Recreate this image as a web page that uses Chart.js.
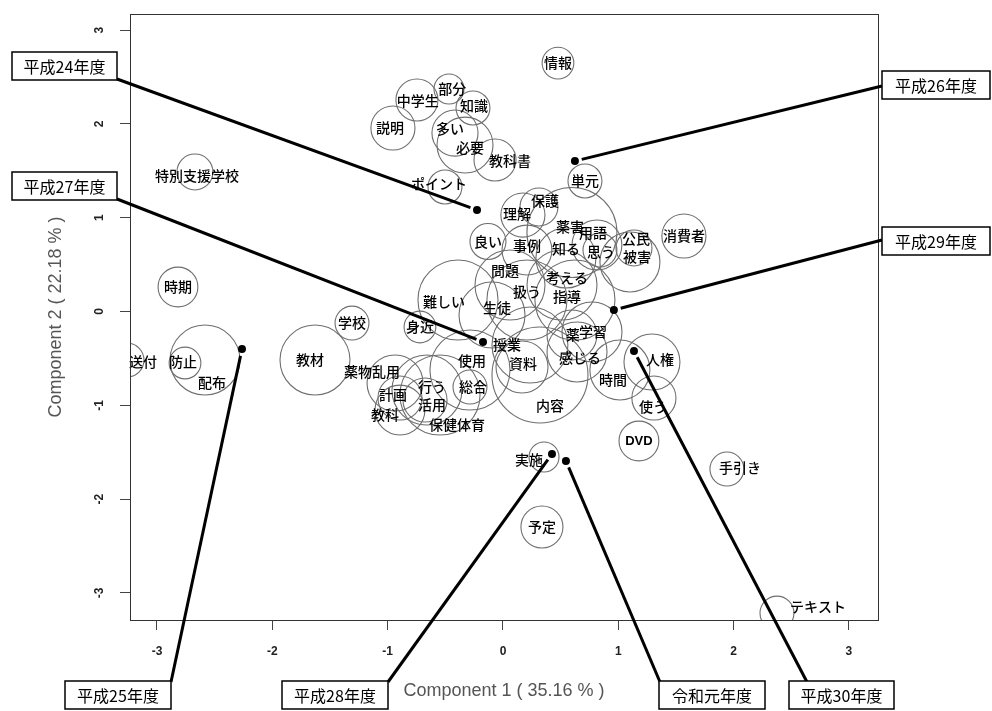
<!DOCTYPE html>
<html>
<head>
<meta charset="utf-8">
<script src="https://cdn.jsdelivr.net/npm/chart.js@4/dist/chart.umd.min.js"></script>
<style>
  html, body { margin: 0; padding: 0; background: #ffffff; }
  canvas { display: block; }
</style>
</head>
<body>
<canvas id="ca" width="992" height="711"></canvas>
<script>
// Correspondence analysis: extracted words (bubbles) and fiscal years (points)
const words = [
  '情報','部分','中学生','知識','説明','多い','必要','教科書','ポイント','単元',
  '保護','理解','薬害','良い','事例','知る','用語','思う','公民','被害',
  '消費者','問題','考える','扱う','指導','生徒','難しい','身近','学校','教材',
  '送付','防止','配布','特別支援学校','時期','薬物乱用','計画','行う','活用','教科',
  '保健体育','使用','総合','授業','資料','内容','薬','学習','感じる','時間',
  '人権','使う','DVD','手引き','実施','予定','テキスト'
];
const comp1 = [
  0.477,-0.468,-0.746,-0.260,-0.954,-0.416,-0.329,-0.069,-0.503,0.711,
  0.312,0.173,0.598,-0.130,0.208,0.546,0.815,0.841,1.136,1.101,
  1.569,0.061,0.512,0.208,0.624,-0.095,-0.390,-0.720,-1.309,-1.630,
  -3.260,-2.757,-2.584,-2.671,-2.818,-0.936,-0.893,-0.659,-0.676,-0.893,
  -0.546,-0.286,-0.286,0.234,0.165,0.321,0.598,0.772,0.642,1.014,
  1.292,1.309,1.179,1.942,0.356,0.338,2.376
];
const comp2 = [
  2.648,2.371,2.254,2.169,1.956,1.902,1.774,1.615,1.327,1.391,
  1.114,1.028,0.842,0.746,0.655,0.570,0.709,0.655,0.677,0.528,
  0.805,0.282,0.282,0.123,0.123,-0.037,0.123,-0.165,-0.123,-0.517,
  -0.517,-0.549,-0.517,1.487,0.261,-0.762,-0.922,-0.837,-0.943,-1.050,
  -0.890,-0.623,-0.805,-0.357,-0.591,-0.677,-0.250,-0.218,-0.431,-0.623,
  -0.538,-0.922,-1.380,-1.679,-1.551,-2.297,-3.214
];
// frequency of each word (bubble area)
const freq = [
  28,25,49,32,54,59,87,49,32,32,
  40,54,225,36,69,100,69,32,36,100,
  54,136,136,178,178,121,178,28,32,136,
  32,28,136,36,44,87,54,136,54,69,
  178,178,32,160,75,256,69,100,100,100,
  87,54,44,32,25,49,32
];
// label anchor of each word (component coordinates)
const labelC1 = [
  0.477,-0.440,-0.738,-0.251,-0.980,-0.460,-0.286,0.061,-0.555,0.711,
  0.364,0.121,0.581,-0.130,0.208,0.546,0.780,0.850,1.153,1.162,
  1.569,0.017,0.555,0.208,0.555,-0.052,-0.512,-0.720,-1.309,-1.673,
  -3.121,-2.774,-2.523,-2.653,-2.818,-1.136,-0.954,-0.616,-0.616,-1.023,
  -0.399,-0.269,-0.260,0.035,0.173,0.408,0.606,0.780,0.668,0.954,
  1.361,1.301,1.179,2.055,0.225,0.338,2.731
];
const labelC2 = [
  2.648,2.371,2.243,2.190,1.956,1.945,1.743,1.604,1.359,1.391,
  1.178,1.039,0.906,0.746,0.698,0.666,0.837,0.634,0.773,0.581,
  0.805,0.432,0.357,0.208,0.155,0.037,0.101,-0.165,-0.123,-0.517,
  -0.538,-0.538,-0.762,1.444,0.261,-0.645,-0.890,-0.805,-0.997,-1.103,
  -1.209,-0.527,-0.805,-0.357,-0.559,-1.007,-0.250,-0.218,-0.496,-0.730,
  -0.517,-1.018,-1.380,-1.668,-1.583,-2.297,-3.150
];

const years = ['平成24年度','平成25年度','平成26年度','平成27年度','平成28年度','平成29年度','平成30年度','令和元年度'];
const yearC1 = [-0.225,-2.263,0.624,-0.173,0.425,0.962,1.136,0.546];
const yearC2 = [1.082,-0.400,1.604,-0.325,-1.519,0.016,-0.421,-1.593];

const tickValues = [-3,-2,-1,0,1,2,3];
const xTitle = 'Component 1 ( 35.16 % )';
const yTitle = 'Component 2 ( 22.18 % )';

// callout boxes for the year points (page layout, pixels)
const callouts = [
  { label: '平成24年度', box: [12, 52, 105, 28],  anchor: [117, 79] },
  { label: '平成25年度', box: [65, 681, 106, 28], anchor: [171, 682] },
  { label: '平成26年度', box: [882, 71, 108, 28], anchor: [882, 86] },
  { label: '平成27年度', box: [12, 172, 105, 28], anchor: [117, 199] },
  { label: '平成28年度', box: [282, 681, 106, 28], anchor: [388, 682] },
  { label: '平成29年度', box: [882, 227, 108, 28], anchor: [882, 240] },
  { label: '平成30年度', box: [789, 681, 105, 28], anchor: [807, 682] },
  { label: '令和元年度', box: [659, 681, 106, 28], anchor: [660, 682] }
];

const bubbleRadius = f => 3 * Math.sqrt(f);

const wordLabels = {
  id: 'wordLabels',
  afterDatasetDraw(chart, args) {
    if (args.index !== 0) return;
    const { ctx, scales: { x, y } } = chart;
    ctx.save();
    ctx.fillStyle = '#000';
    ctx.textAlign = 'center';
    ctx.textBaseline = 'middle';
    words.forEach((w, i) => {
      ctx.font = w === 'DVD' ? 'bold 13px "Liberation Sans"' : '500 14px "Noto Sans CJK JP"';
      ctx.fillText(w, x.getPixelForValue(labelC1[i]), y.getPixelForValue(labelC2[i]));
    });
    ctx.restore();
  }
};

const frameAndCallouts = {
  id: 'frameAndCallouts',
  afterDraw(chart) {
    const { ctx, chartArea: a, scales: { x, y } } = chart;
    ctx.save();
    ctx.strokeStyle = '#333';
    ctx.lineWidth = 1;
    ctx.strokeRect(Math.round(a.left) + 0.5, Math.round(a.top) + 0.5,
                   Math.round(a.right - a.left), Math.round(a.bottom - a.top));

    callouts.forEach(c => {
      const i = years.indexOf(c.label);
      const px = x.getPixelForValue(yearC1[i]);
      const py = y.getPixelForValue(yearC2[i]);
      const [ax, ay] = c.anchor;
      const dx = px - ax, dy = py - ay;
      const len = Math.hypot(dx, dy);
      const gap = 7;
      ctx.beginPath();
      ctx.strokeStyle = '#000';
      ctx.lineWidth = 3;
      ctx.moveTo(ax, ay);
      ctx.lineTo(px - dx / len * gap, py - dy / len * gap);
      ctx.stroke();

      const [bx, by, bw, bh] = c.box;
      ctx.fillStyle = '#fff';
      ctx.fillRect(bx, by, bw, bh);
      ctx.lineWidth = 1.5;
      ctx.strokeRect(bx, by, bw, bh);
      ctx.fillStyle = '#000';
      ctx.font = '16px "Noto Sans CJK JP"';
      ctx.textAlign = 'center';
      ctx.textBaseline = 'middle';
      ctx.fillText(c.label, bx + bw / 2, by + bh / 2 + 1);
    });
    ctx.restore();
  }
};

const setTicks = s => { s.ticks = tickValues.map(v => ({ value: v })); };

new Chart(document.getElementById('ca'), {
  type: 'bubble',
  data: {
    datasets: [
      {
        label: 'words',
        order: 2,
        data: words.map((w, i) => ({ x: comp1[i], y: comp2[i], r: bubbleRadius(freq[i]) })),
        backgroundColor: 'rgba(0,0,0,0)',
        borderColor: '#6f6f6f',
        borderWidth: 1.1,
        clip: 0
      },
      {
        type: 'scatter',
        label: 'years',
        order: 1,
        data: years.map((w, i) => ({ x: yearC1[i], y: yearC2[i] })),
        pointRadius: 4,
        backgroundColor: '#000',
        borderColor: '#000',
        borderWidth: 0
      }
    ]
  },
  options: {
    responsive: false,
    animation: false,
    events: [],
    layout: { autoPadding: false, padding: { top: 14, right: 114, bottom: 0, left: 0 } },
    plugins: { legend: { display: false }, tooltip: { enabled: false } },
    scales: {
      x: {
        type: 'linear',
        min: -3.234, max: 3.252,
        afterBuildTicks: setTicks,
        afterFit: s => { s.height = 91; s.paddingLeft = 0; s.paddingRight = 0; },
        border: { display: false },
        grid: { drawOnChartArea: false, drawTicks: true, tickLength: 10, color: '#444' },
        ticks: { padding: 14, color: '#222', font: { family: 'Liberation Sans', size: 12, weight: 'bold' },
                 callback: v => String(v) },
        title: { display: true, text: xTitle, color: '#555',
                 font: { family: 'Liberation Sans', size: 18 }, padding: { top: 0, bottom: 9 } }
      },
      y: {
        type: 'linear',
        min: -3.288, max: 3.171,
        afterBuildTicks: setTicks,
        afterFit: s => { s.width = 130; s.paddingTop = 0; s.paddingBottom = 0; },
        border: { display: false },
        grid: { drawOnChartArea: false, drawTicks: true, tickLength: 10, color: '#444' },
        ticks: { padding: 15, minRotation: 90, maxRotation: 90, crossAlign: 'center', color: '#222',
                 font: { family: 'Liberation Sans', size: 12, weight: 'bold' }, callback: v => String(v) },
        title: { display: true, text: yTitle, color: '#555',
                 font: { family: 'Liberation Sans', size: 18 }, padding: { top: 45, bottom: 0 } }
      }
    }
  },
  plugins: [wordLabels, frameAndCallouts]
});
</script>
</body>
</html>
